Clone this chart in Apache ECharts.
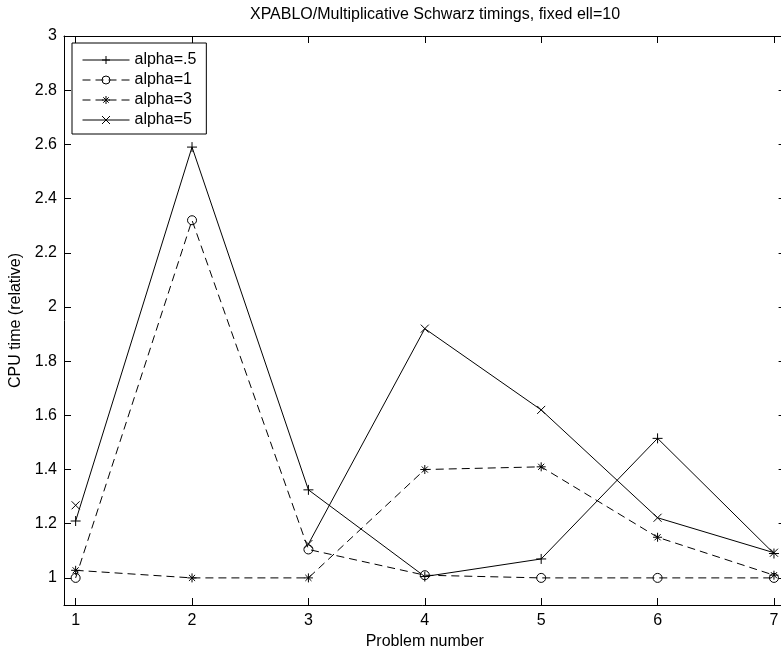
<!DOCTYPE html>
<html style="height: 100%">
<head>
    <meta charset="utf-8">
    <script type="text/javascript" src="https://cdn.jsdelivr.net/npm/echarts@6/dist/echarts.min.js"></script>
</head>
<body style="height: 100%; margin: 0; background: #fff">
<div id="container" style="width: 781px; height: 651px"></div>
<script type="text/javascript">
    // problem numbers and relative CPU timings
    var problems = [1, 2, 3, 4, 5, 6, 7];
    var alpha05 = [1.21, 2.59, 1.325, 1.005, 1.07, 1.515, 1.09];
    var alpha1  = [1.0, 2.32, 1.105, 1.01, 1.0, 1.0, 1.0];
    var alpha3  = [1.028, 1.0, 1.0, 1.40, 1.41, 1.15, 1.01];
    var alpha5  = [1.268, '-', 1.125, 1.92, 1.62, 1.222, 1.093];   // no value for problem 2
    var names = ['alpha=.5', 'alpha=1', 'alpha=3', 'alpha=5'];
    var xTicks = [1, 2, 3, 4, 5, 6, 7];
    var yTicks = [1, 1.2, 1.4, 1.6, 1.8, 2, 2.2, 2.4, 2.6, 2.8, 3];

    var font = 'Liberation Sans, Helvetica, Arial, sans-serif';
    var fs = 16;
    var plusPath = 'path://M5,0L5,10M0,5L10,5';
    var crossPath = 'path://M0,0L10,10M10,0L0,10';
    var starPath = 'path://M5,0L5,10M0,5L10,5M1.6,1.6L8.4,8.4M8.4,1.6L1.6,8.4';

    function pairs(ys) {
        return problems.map(function (p, i) { return [p, ys[i]]; });
    }

    function mkSeries(name, ys, symbol, size, dashed) {
        return {
            name: name,
            type: 'line',
            data: pairs(ys),
            symbol: symbol,
            symbolSize: size,
            showSymbol: true,
            showAllSymbol: true,
            connectNulls: false,
            animation: false,
            lineStyle: {color: '#000', width: 1, type: dashed ? [8, 5] : 'solid'},
            itemStyle: {color: 'rgba(0,0,0,0)', borderColor: '#000', borderWidth: 1},
            emphasis: {disabled: true}
        };
    }

    var dom = document.getElementById('container');
    var myChart = echarts.init(dom);
    var option = {
        backgroundColor: '#fff',
        animation: false,
        title: {
            text: 'XPABLO/Multiplicative Schwarz timings, fixed ell=10',
            left: 430,
            textAlign: 'center',
            top: 2,
            textStyle: {fontFamily: font, fontSize: fs, fontWeight: 'normal', color: '#000'}
        },
        legend: {
            orient: 'vertical',
            left: 72,
            top: 43,
            data: names,
            padding: [9, 10, 6, 10],
            itemWidth: 47,
            itemHeight: 10,
            itemGap: 4,
            backgroundColor: '#fff',
            borderColor: '#000',
            borderWidth: 1,
            borderRadius: 0,
            lineStyle: {width: 1},
            itemStyle: {borderWidth: 1},
            textStyle: {fontFamily: font, fontSize: fs, color: '#000'}
        },
        grid: {left: 64, top: 36, width: 721.6, height: 569, outerBoundsMode: 'none', containLabel: false},
        xAxis: [{
            type: 'value',
            min: 0.9,
            max: 7.1,
            name: 'Problem number',
            nameLocation: 'middle',
            nameGap: 27,
            nameTextStyle: {fontFamily: font, fontSize: fs, color: '#000'},
            axisLine: {show: true, lineStyle: {color: '#000', width: 1}},
            axisTick: {inside: true, length: 7, customValues: xTicks, lineStyle: {color: '#000'}},
            axisLabel: {customValues: xTicks, margin: 8, fontFamily: font, fontSize: fs, color: '#000'},
            splitLine: {show: false}
        }, {
            type: 'value',
            position: 'top',
            min: 0.9,
            max: 7.1,
            axisLine: {show: true, onZero: false, lineStyle: {color: '#000', width: 1}},
            axisTick: {inside: true, length: 7, customValues: xTicks, lineStyle: {color: '#000'}},
            axisLabel: {show: false},
            splitLine: {show: false}
        }],
        yAxis: [{
            type: 'value',
            min: 0.9,
            max: 3,
            name: 'CPU time (relative)',
            nameLocation: 'middle',
            nameGap: 32,
            nameTextStyle: {fontFamily: font, fontSize: fs, color: '#000'},
            axisLine: {show: true, lineStyle: {color: '#000', width: 1}},
            axisTick: {inside: true, length: 7, customValues: yTicks, lineStyle: {color: '#000'}},
            axisLabel: {customValues: yTicks, margin: 7, fontFamily: font, fontSize: fs, color: '#000'},
            splitLine: {show: false}
        }, {
            type: 'value',
            position: 'right',
            min: 0.9,
            max: 3,
            axisLine: {show: true, onZero: false, lineStyle: {color: '#000', width: 1}},
            axisTick: {inside: true, length: 7, customValues: yTicks, lineStyle: {color: '#000'}},
            axisLabel: {show: false},
            splitLine: {show: false}
        }],
        series: [
            mkSeries(names[0], alpha05, plusPath, 10, false),
            mkSeries(names[1], alpha1, 'circle', 9, true),
            mkSeries(names[2], alpha3, starPath, 9, true),
            mkSeries(names[3], alpha5, crossPath, 8, false)
        ]
    };
    myChart.setOption(option);
</script>
</body>
</html>
